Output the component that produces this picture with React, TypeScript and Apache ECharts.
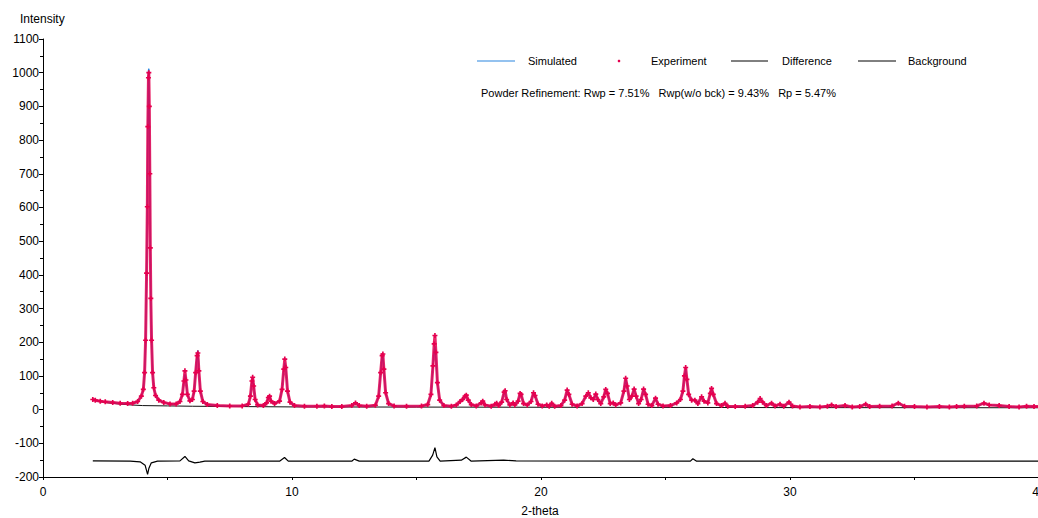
import React, { useEffect, useRef } from "react";
import * as echarts from "echarts";

const xTickValues = [0, 10, 20, 30, 40];
const yTickRange = [-200, 1100];
const legendNames = ["Simulated", "Experiment", "Difference", "Background"];
const refinementText = "Powder Refinement: Rwp = 7.51%   Rwp(w/o bck) = 9.43%   Rp = 5.47%";
const xAxisTitle = "2-theta";
const yAxisTitle = "Intensity";

// Experimental pattern [2-theta, intensity]
const experiment: [number, number][] = [
  [2.0, 30], [2.1, 28], [2.3, 25], [2.5, 23], [2.8, 21], [3.1, 19], [3.4, 18], [3.6, 19], [3.8, 24],
  [3.95, 40], [4.03, 60], [4.08, 110], [4.12, 206], [4.16, 405], [4.19, 602], [4.21, 840], [4.235, 985],
  [4.25, 1000], [4.27, 900], [4.29, 700], [4.31, 480], [4.33, 330], [4.36, 206], [4.4, 110], [4.45, 65],
  [4.52, 42], [4.65, 28], [4.85, 21], [5.1, 17], [5.35, 17], [5.5, 24], [5.6, 45], [5.66, 85], [5.7, 115],
  [5.74, 88], [5.8, 45], [5.9, 26], [6.0, 30], [6.07, 55], [6.13, 110], [6.19, 160], [6.22, 168],
  [6.26, 115], [6.32, 55], [6.42, 24], [6.6, 15], [7.0, 12], [7.5, 11], [8.0, 11], [8.25, 16], [8.33, 40],
  [8.39, 85], [8.42, 96], [8.46, 70], [8.52, 30], [8.62, 14], [8.85, 12], [8.98, 20], [9.05, 36], [9.1, 40],
  [9.16, 25], [9.3, 18], [9.5, 25], [9.6, 60], [9.67, 120], [9.71, 150], [9.75, 125], [9.82, 55], [9.92, 22],
  [10.1, 12], [10.5, 10], [11.0, 10], [11.3, 11], [11.6, 9], [12.0, 9], [12.4, 12], [12.55, 20], [12.7, 12],
  [13.0, 10], [13.35, 13], [13.48, 40], [13.56, 110], [13.62, 160], [13.65, 165], [13.69, 120], [13.76, 50],
  [13.88, 18], [14.1, 11], [14.6, 10], [15.2, 11], [15.45, 15], [15.58, 45], [15.66, 130], [15.71, 195],
  [15.74, 220], [15.78, 170], [15.84, 80], [15.93, 28], [16.1, 12], [16.4, 10], [16.6, 14], [16.75, 24],
  [16.85, 30], [16.95, 40], [17.0, 43], [17.08, 28], [17.2, 15], [17.4, 11], [17.6, 20], [17.66, 25],
  [17.75, 14], [18.0, 10], [18.15, 16], [18.22, 19], [18.3, 12], [18.42, 22], [18.52, 52], [18.56, 56],
  [18.62, 30], [18.75, 14], [18.88, 20], [18.95, 14], [19.08, 25], [19.16, 48], [19.2, 45], [19.3, 18],
  [19.45, 14], [19.6, 24], [19.7, 50], [19.76, 42], [19.88, 16], [20.05, 11], [20.23, 14], [20.33, 10],
  [20.43, 19], [20.55, 10], [20.8, 12], [20.95, 28], [21.05, 58], [21.12, 45], [21.25, 16], [21.45, 11],
  [21.65, 18], [21.8, 40], [21.9, 50], [22.0, 35], [22.1, 30], [22.2, 46], [22.28, 30], [22.4, 18],
  [22.52, 38], [22.6, 60], [22.67, 48], [22.78, 18], [22.9, 20], [23.0, 14], [23.2, 20], [23.33, 55],
  [23.4, 93], [23.46, 70], [23.55, 30], [23.65, 40], [23.74, 61], [23.82, 40], [23.92, 18], [24.02, 30],
  [24.12, 61], [24.2, 45], [24.3, 16], [24.45, 12], [24.6, 34], [24.7, 16], [24.9, 11], [25.2, 12],
  [25.45, 20], [25.6, 30], [25.7, 55], [25.76, 100], [25.81, 125], [25.86, 90], [25.93, 45], [26.05, 28],
  [26.18, 28], [26.3, 18], [26.45, 38], [26.55, 25], [26.7, 20], [26.8, 48], [26.85, 63], [26.92, 45],
  [27.05, 18], [27.25, 12], [27.39, 19], [27.5, 10], [27.8, 9], [28.2, 10], [28.5, 12], [28.7, 22],
  [28.8, 33], [28.9, 22], [29.05, 12], [29.26, 19], [29.4, 11], [29.6, 16], [29.75, 10], [29.96, 22],
  [30.1, 11], [30.4, 8], [30.8, 9], [31.2, 8], [31.5, 10], [31.67, 14], [31.85, 9], [32.21, 12], [32.5, 8],
  [32.8, 9], [33.04, 16], [33.2, 9], [33.6, 10], [34.1, 11], [34.35, 19], [34.6, 10], [35.0, 9], [35.5, 8],
  [36.0, 9], [36.4, 8], [36.69, 9], [37.0, 10], [37.5, 11], [37.79, 19], [38.0, 14], [38.4, 12], [38.8, 9],
  [39.2, 8], [39.5, 10], [39.8, 9], [40.0, 9],
];

// Calculated intensities that differ from the experiment at peak tops
const simulatedPeakTops: [number, number][] = [
  [4.235, 1005], [4.25, 1012], [5.7, 105], [6.19, 165], [6.22, 176], [9.71, 140], [13.65, 160],
  [15.71, 175], [15.74, 188], [15.78, 150], [17.0, 38], [25.81, 120],
];

const difference: [number, number][] = [
  [2.0, -152], [3.5, -153], [3.9, -155], [4.1, -165], [4.2, -192], [4.25, -175], [4.35, -158], [4.6, -153],
  [5.5, -152], [5.7, -139], [5.85, -152], [6.1, -158], [6.3, -156], [6.5, -153], [9.5, -153], [9.7, -142],
  [9.85, -153], [12.4, -153], [12.5, -147], [12.7, -153], [15.5, -153], [15.65, -135], [15.74, -113],
  [15.82, -140], [15.95, -153], [16.8, -150], [17.0, -141], [17.2, -153], [18.5, -150], [19.0, -152],
  [26.0, -153], [26.1, -146], [26.25, -153], [40.0, -153],
];

const background: [number, number][] = [
  [2.0, 28], [2.5, 21], [3.0, 17], [3.5, 14], [4.0, 12], [5.0, 11], [6.0, 10], [8.0, 9], [10.0, 8],
  [15.0, 7.5], [20.0, 7], [30.0, 6], [40.0, 5.5],
];

const FONT = "'Liberation Sans', Arial, sans-serif";
const BLUE = "#2a86e0";
const RED = "#e5004f";

export default function App() {
  const ref = useRef<HTMLDivElement>(null);
  useEffect(() => {
    if (!ref.current) return;
    const chart = echarts.init(ref.current, undefined, { renderer: "svg" });
    const simulated = experiment.map(([x, y]) => {
      const o = simulatedPeakTops.find((p) => p[0] === x);
      return [x, o ? o[1] : y];
    });
    const legendY = 61;
    chart.setOption({
      animation: false,
      backgroundColor: "#fff",
      textStyle: { fontFamily: FONT },
      grid: { left: 43, right: -1, top: 39, bottom: 41, containLabel: false, outerBoundsMode: "none" },
      xAxis: {
        type: "value",
        min: xTickValues[0],
        max: xTickValues[xTickValues.length - 1],
        interval: 10,
        axisLine: { onZero: false, lineStyle: { color: "#000", width: 1 } },
        axisTick: { show: true, length: 3, lineStyle: { color: "#000" } },
        minorTick: { show: true, splitNumber: 2, length: 3, lineStyle: { color: "#000" } },
        axisLabel: { color: "#000", fontSize: 12, margin: 9, fontFamily: FONT, formatter: (v: number) => String(v) },
        splitLine: { show: false },
      },
      yAxis: {
        type: "value",
        min: yTickRange[0],
        max: yTickRange[1],
        interval: 100,
        axisLine: { show: true, onZero: false, lineStyle: { color: "#000", width: 1 } },
        axisTick: { show: true, length: 4, lineStyle: { color: "#000" } },
        minorTick: { show: true, splitNumber: 2, length: 3, lineStyle: { color: "#000" } },
        axisLabel: { color: "#000", fontSize: 12, margin: 4, fontFamily: FONT, formatter: (v: number) => String(v) },
        splitLine: { show: false },
      },
      series: [
        {
          name: legendNames[3],
          type: "line",
          data: background,
          symbol: "none",
          lineStyle: { color: "#111", width: 1 },
          z: 1,
        },
        {
          name: legendNames[2],
          type: "line",
          data: difference,
          symbol: "none",
          lineStyle: { color: "#000", width: 1.2 },
          z: 2,
        },
        {
          name: legendNames[0],
          type: "line",
          data: simulated,
          symbol: "none",
          lineStyle: { color: BLUE, width: 1.5 },
          z: 3,
        },
        {
          name: legendNames[1],
          type: "line",
          data: experiment,
          symbol: "path://M1,0h1v1h1v1h-1v1h-1v-1h-1v-1h1z",
          symbolSize: 5,
          showAllSymbol: true,
          itemStyle: { color: RED },
          lineStyle: { color: RED, width: 3, opacity: 0.85 },
          z: 4,
        },
      ],
      graphic: [
        { type: "text", left: 20, top: 13, style: { text: yAxisTitle, fontSize: 12, fontFamily: FONT, fill: "#000" } },
        { type: "text", x: 540, y: 511, style: { text: xAxisTitle, fontSize: 12, fontFamily: FONT, fill: "#000", textAlign: "center", textVerticalAlign: "middle" } },
        { type: "line", shape: { x1: 477, y1: legendY, x2: 515, y2: legendY }, style: { stroke: BLUE, lineWidth: 1.2 } },
        { type: "text", x: 528, y: legendY, style: { text: legendNames[0], fontSize: 11, fontFamily: FONT, fill: "#000", textVerticalAlign: "middle" } },
        { type: "circle", shape: { cx: 619, cy: legendY, r: 1.3 }, style: { fill: RED } },
        { type: "text", x: 651, y: legendY, style: { text: legendNames[1], fontSize: 11, fontFamily: FONT, fill: "#000", textVerticalAlign: "middle" } },
        { type: "line", shape: { x1: 731, y1: legendY, x2: 768, y2: legendY }, style: { stroke: "#000", lineWidth: 1 } },
        { type: "text", x: 782, y: legendY, style: { text: legendNames[2], fontSize: 11, fontFamily: FONT, fill: "#000", textVerticalAlign: "middle" } },
        { type: "line", shape: { x1: 858, y1: legendY, x2: 896, y2: legendY }, style: { stroke: "#000", lineWidth: 1 } },
        { type: "text", x: 908, y: legendY, style: { text: legendNames[3], fontSize: 11, fontFamily: FONT, fill: "#000", textVerticalAlign: "middle" } },
        { type: "text", x: 481, y: 93, style: { text: refinementText, fontSize: 11, fontFamily: FONT, fill: "#000", textVerticalAlign: "middle" } },
      ],
    });
    return () => chart.dispose();
  }, []);
  return <div ref={ref} style={{ position: "fixed", left: 0, top: 0, width: 1038, height: 518 }} />;
}
